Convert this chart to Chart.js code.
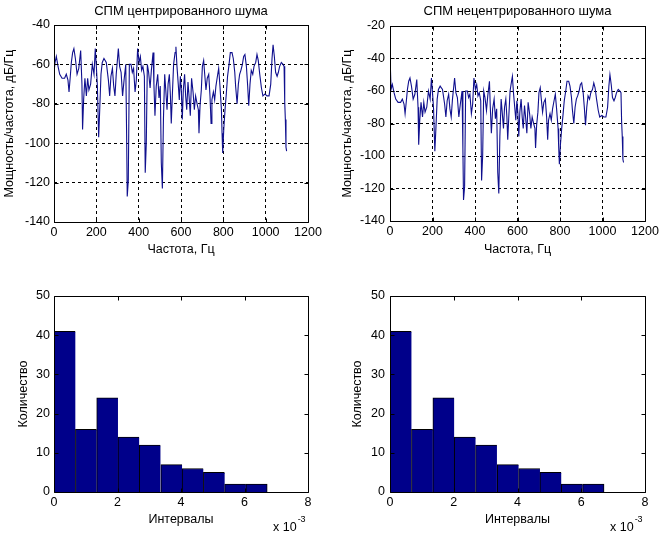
<!DOCTYPE html>
<html>
<head>
<meta charset="utf-8">
<script src="https://cdn.jsdelivr.net/npm/chart.js@4.4.0/dist/chart.umd.min.js"></script>
<style>
  body { margin: 0; background: #fff; }
  #fig { position: relative; width: 662px; height: 536px; }
  #fig canvas { position: absolute; }
</style>
</head>
<body>
<div id="fig">
  <canvas id="psdCentered" width="331" height="268" style="left:0;top:0"></canvas>
  <canvas id="psdUncentered" width="331" height="268" style="left:331px;top:0"></canvas>
  <canvas id="histCentered" width="331" height="268" style="left:0;top:268px"></canvas>
  <canvas id="histUncentered" width="331" height="268" style="left:331px;top:268px"></canvas>
</div>
<script>
// frequency axis, Hz
const freqHz = [0,5,11,19,27,38,50,58,66,71,77,82,88,94,101,109,117,126,132,135,
  140,146,153,159,165,173,181,189,195,200,205,211,216,222,228,236,247,257,263,269,
  276,282,288,294,304,310,317,324,331,339,343,346,351,356,364,370,376,383,389,395,
  402,408,414,420,427,431,436,441,447,454,460,468,472,477,483,490,496,502,507,512,
  517,523,528,534,539,545,550,554,559,565,572,576,581,587,592,597,602,606,611,617,
  622,627,633,638,644,650,657,663,669,676,682,685,690,696,701,707,712,718,724,731,
  737,742,746,753,759,765,772,778,784,791,794,797,802,808,814,820,827,833,841,847,
  854,858,865,871,877,883,890,896,902,909,915,920,926,932,939,945,953,959,965,972,
  980,987,997,1006,1016,1024,1030,1035,1041,1047,1054,1060,1066,1074,1082,1087,1090,1093,1096,1099];

// PSD of centered noise, dB/Hz
const psdCentered = [-64,-59,-56,-61,-65,-67,-67,-65,-68,-74,-66,-59,-54,-52,-57,-65,-62,-53,-70,-93,
  -78,-67,-76,-67,-73,-70,-60,-65,-52,-61,-71,-97,-83,-65,-59,-57,-59,-68,-76,-66,
  -62,-71,-76,-65,-52,-61,-64,-76,-68,-60,-95,-127,-119,-60,-60,-64,-62,-74,-68,-52,
  -59,-56,-63,-61,-66,-115,-100,-60,-64,-72,-63,-54,-70,-86,-71,-65,-77,-71,-110,-123,
  -88,-65,-73,-83,-70,-65,-76,-90,-76,-60,-54,-51,-61,-70,-78,-66,-74,-88,-73,-65,
  -76,-83,-69,-76,-86,-67,-74,-83,-76,-80,-83,-95,-81,-73,-61,-58,-65,-73,-67,-65,
  -76,-90,-78,-74,-78,-71,-66,-62,-71,-83,-95,-105,-93,-83,-75,-66,-60,-54,-54,-57,
  -64,-71,-80,-70,-65,-63,-60,-56,-55,-61,-71,-81,-70,-63,-65,-61,-59,-55,-58,-65,
  -72,-76,-75,-76,-76,-70,-57,-50,-56,-64,-66,-64,-61,-59,-60,-61,-79,-88,-102,-104];

// non-centered noise: same spectrum, plus the DC spike at 0 Hz
const dcLevel = -38;
const psdUncentered = [dcLevel, ...psdCentered.slice(1)];

// histogram of intervals (x 10^-3)
const binCenters = [0.34, 1.01, 1.68, 2.35, 3.02, 3.70, 4.37, 5.04, 5.71, 6.38];
const binCounts = [41, 16, 24, 14, 12, 7, 6, 5, 2, 2];

const FONT = '"Liberation Sans", Arial, sans-serif';
Chart.defaults.font.family = FONT;
Chart.defaults.font.size = 12.5;
Chart.defaults.color = '#000';

// matlab-like axes: solid box, inward ticks, optional exponent label
const axesBox = {
  id: 'axesBox',
  afterDatasetsDraw(chart, args, opts) {
    const {ctx, chartArea: a, scales} = chart;
    const L = Math.round(a.left) + 0.5, R = Math.round(a.right) + 0.5;
    const T = Math.round(a.top) + 0.5, B = Math.round(a.bottom) + 0.5;
    ctx.save();
    ctx.strokeStyle = '#000';
    ctx.lineWidth = 1;
    ctx.setLineDash([]);
    ctx.beginPath();
    ctx.rect(L, T, R - L, B - T);
    scales.x.ticks.forEach(t => {
      const px = Math.round(scales.x.getPixelForValue(t.value)) + 0.5;
      ctx.moveTo(px, B); ctx.lineTo(px, B - 4);
      ctx.moveTo(px, T); ctx.lineTo(px, T + 4);
    });
    scales.y.ticks.forEach(t => {
      const py = Math.round(scales.y.getPixelForValue(t.value)) + 0.5;
      ctx.moveTo(L, py); ctx.lineTo(L + 4, py);
      ctx.moveTo(R, py); ctx.lineTo(R - 4, py);
    });
    ctx.stroke();
    if (opts.exponent) {
      ctx.fillStyle = '#000';
      ctx.textBaseline = 'alphabetic';
      ctx.font = '12.5px ' + FONT;
      const x0 = a.right - 35;
      ctx.fillText('x 10', x0, 263);
      const w = ctx.measureText('x 10').width;
      ctx.font = '9px ' + FONT;
      ctx.fillText(opts.exponent, x0 + w + 1, 254);
    }
    ctx.restore();
  }
};

function psdChart(id, title, values, yMin, yMax, box) {
  const points = freqHz.map((f, i) => ({x: f, y: values[i]}));
  new Chart(document.getElementById(id), {
    type: 'line',
    data: {
      datasets: [{
        data: points,
        borderColor: '#10108e',
        borderWidth: 1.1,
        pointRadius: 0,
        tension: 0
      }]
    },
    options: {
      responsive: false,
      animation: false,
      devicePixelRatio: 1,
      layout: { padding: { left: 0, top: 0, right: 331 - box.right, bottom: 0 } },
      plugins: {
        legend: { display: false },
        tooltip: { enabled: false },
        title: {
          display: true, text: title, fullSize: false,
          font: { size: 13, weight: 'normal' },
          padding: { top: 3.5, bottom: box.top - 19.1 }
        },
        axesBox: {}
      },
      scales: {
        x: {
          type: 'linear', min: 0, max: 1200,
          ticks: { stepSize: 200, padding: 3, maxRotation: 0, callback: v => String(v) },
          grid: { color: '#000', drawTicks: false, lineWidth: 1 },
          border: { display: false, dash: [3, 3] },
          title: { display: true, text: 'Частота, Гц', padding: { top: 0, bottom: 10.5 } },
          afterFit: s => { s.height = 268 - box.bottom; }
        },
        y: {
          min: yMin, max: yMax,
          ticks: { stepSize: 20, padding: box.tickPad, callback: v => String(v) },
          grid: { color: '#000', drawTicks: false, lineWidth: 1 },
          border: { display: false, dash: [3, 3] },
          title: { display: true, text: 'Мощность/частота, дБ/Гц', padding: { top: box.titlePad, bottom: 0 } },
          afterFit: s => { s.width = box.left; }
        }
      }
    },
    plugins: [axesBox]
  });
}

function histChart(id, box) {
  const points = binCenters.map((c, i) => ({x: c, y: binCounts[i]}));
  new Chart(document.getElementById(id), {
    type: 'bar',
    data: {
      datasets: [{
        data: points,
        backgroundColor: '#00008a',
        borderColor: '#000',
        borderWidth: c => ({ top: 1, left: 1, bottom: 0, right: c.dataIndex === binCounts.length - 1 ? 1 : 0 }),
        borderSkipped: false,
        barPercentage: 1,
        categoryPercentage: 1
      }]
    },
    options: {
      responsive: false,
      animation: false,
      devicePixelRatio: 1,
      layout: { padding: { left: 0, top: box.top, right: 331 - box.right, bottom: 0 } },
      plugins: {
        legend: { display: false },
        tooltip: { enabled: false },
        axesBox: { exponent: '-3' }
      },
      scales: {
        x: {
          type: 'linear', min: 0, max: 8, offset: false,
          ticks: { stepSize: 2, padding: 3, maxRotation: 0, callback: v => String(v) },
          grid: { display: false, drawTicks: false },
          border: { display: false },
          title: { display: true, text: 'Интервалы', padding: { top: 0, bottom: 8.5 } },
          afterFit: s => { s.height = 268 - box.bottom; }
        },
        y: {
          min: 0, max: 50,
          ticks: { stepSize: 10, padding: box.tickPad, callback: v => String(v) },
          grid: { display: false, drawTicks: false },
          border: { display: false },
          title: { display: true, text: 'Количество', padding: { top: box.titlePad, bottom: 0 } },
          afterFit: s => { s.width = box.left; }
        }
      }
    },
    plugins: [axesBox]
  });
}

psdChart('psdCentered', 'СПМ центрированного шума', psdCentered, -140, -40,
  { left: 54, right: 308, top: 25, bottom: 222, tickPad: 4, titlePad: 2.5 });
psdChart('psdUncentered', 'СПМ нецентрированного шума', psdUncentered, -140, -20,
  { left: 59, right: 314, top: 26, bottom: 221, tickPad: 5, titlePad: 9 });
histChart('histCentered',
  { left: 54, right: 308, top: 28, bottom: 224, tickPad: 4, titlePad: 16.5 });
histChart('histUncentered',
  { left: 59, right: 314, top: 28, bottom: 224, tickPad: 5, titlePad: 19 });
</script>
</body>
</html>
